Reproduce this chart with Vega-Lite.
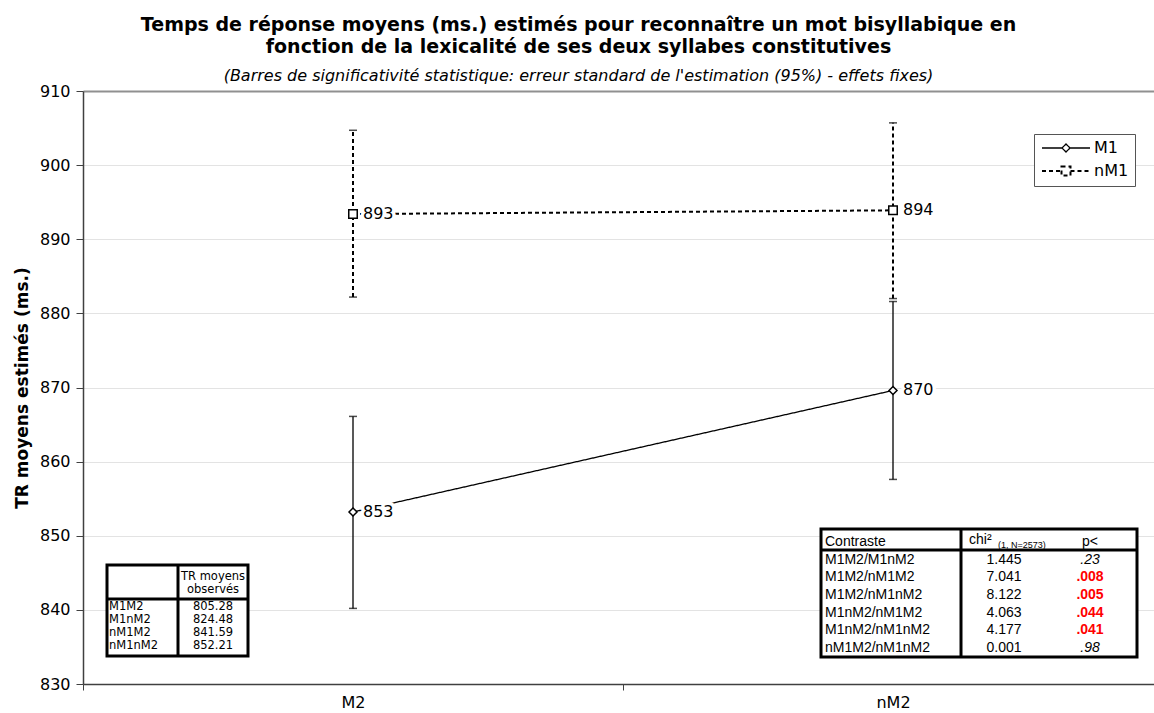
{
  "$schema": "https://vega.github.io/schema/vega-lite/v6.json",
  "width": 1071,
  "height": 593,
  "autosize": {"type": "none"},
  "padding": {"left": 83, "top": 91, "right": 0, "bottom": 29},
  "background": "white",
  "config": {"font": "DejaVu Sans", "view": {"stroke": null}},
  "title": {
    "text": ["Temps de réponse moyens (ms.) estimés pour reconnaître un mot bisyllabique en", "fonction de la lexicalité de ses deux syllabes constitutives"],
    "subtitle": "(Barres de significativité statistique: erreur standard de l'estimation (95%) - effets fixes)",
    "font": "DejaVu Sans",
    "fontSize": 19,
    "fontWeight": "bold",
    "lineHeight": 22,
    "color": "black",
    "subtitleFont": "DejaVu Sans",
    "subtitleFontSize": 16,
    "subtitleFontStyle": "italic",
    "subtitleColor": "black",
    "subtitlePadding": 11,
    "anchor": "middle",
    "frame": "group",
    "dx": -40,
    "offset": -1
  },
  "datasets": {
    "est": [
      {"cond": "M2", "serie": "M1", "tr": 853.2, "lo": 840.2, "hi": 866.1},
      {"cond": "nM2", "serie": "M1", "tr": 869.6, "lo": 857.6, "hi": 881.6},
      {"cond": "M2", "serie": "nM1", "tr": 893.4, "lo": 882.2, "hi": 904.7},
      {"cond": "nM2", "serie": "nM1", "tr": 893.9, "lo": 882.0, "hi": 905.7}
    ],
    "contr": [
      {"contraste": "Contraste", "chi": "chi²", "p": "p<", "kind": "head"},
      {"contraste": "M1M2/M1nM2", "chi": "1.445", "p": ".23", "kind": "ns"},
      {"contraste": "M1M2/nM1M2", "chi": "7.041", "p": ".008", "kind": "sig"},
      {"contraste": "M1M2/nM1nM2", "chi": "8.122", "p": ".005", "kind": "sig"},
      {"contraste": "M1nM2/nM1M2", "chi": "4.063", "p": ".044", "kind": "sig"},
      {"contraste": "M1nM2/nM1nM2", "chi": "4.177", "p": ".041", "kind": "sig"},
      {"contraste": "nM1M2/nM1nM2", "chi": "0.001", "p": ".98", "kind": "ns"}
    ],
    "obs": [
      {"cond": "M1M2", "obs": "805.28"},
      {"cond": "M1nM2", "obs": "824.48"},
      {"cond": "nM1M2", "obs": "841.59"},
      {"cond": "nM1nM2", "obs": "852.21"}
    ]
  },
  "resolve": {"scale": {"x": "independent", "y": "independent"}},
  "layer": [
    {
      "data": {"name": "est"},
      "encoding": {
        "x": {
          "field": "cond", "type": "nominal", "sort": ["M2", "nM2"],
          "scale": {"range": [0, 1080], "paddingInner": 0, "paddingOuter": 0},
          "axis": {"title": null, "labelAngle": 0, "tickBand": "extent", "labelFontSize": 16, "labelColor": "black", "labelPadding": 4, "domainColor": "#404040", "domainWidth": 1.5, "tickColor": "#404040", "tickSize": 6, "grid": false, "labelFont": "DejaVu Sans"}
        },
        "y": {
          "field": "tr", "type": "quantitative",
          "scale": {"domain": [830, 910], "nice": false, "zero": false},
          "axis": {
            "title": "TR moyens estimés (ms.)", "values": [830, 840, 850, 860, 870, 880, 890, 900, 910],
            "titleFontSize": 17, "titleFontWeight": "bold", "titleColor": "black", "titlePadding": 8, "titleFont": "DejaVu Sans",
            "labelFontSize": 16, "labelColor": "black", "labelPadding": 6, "labelFont": "DejaVu Sans",
            "tickSize": 7, "tickColor": "#404040", "domainColor": "#404040", "domainWidth": 1.5,
            "grid": true,
            "gridColor": {"condition": {"test": "datum.value === 910", "value": "#909090"}, "value": "#e3e3e3"},
            "gridWidth": {"condition": {"test": "datum.value === 910", "value": 2}, "value": 1}
          }
        }
      },
      "layer": [
        {
          "mark": {"type": "rule", "color": "black"},
          "encoding": {
            "y": {"field": "lo", "type": "quantitative"},
            "y2": {"field": "hi"},
            "strokeDash": {"field": "serie", "type": "nominal", "scale": {"domain": ["M1", "nM1"], "range": [[1, 0], [4, 3]]}},
            "strokeWidth": {"field": "serie", "type": "ordinal", "scale": {"domain": ["M1", "nM1"], "range": [1.3, 2]}, "legend": null}
          }
        },
        {
          "mark": {"type": "tick", "color": "black", "size": 8, "thickness": 1.5},
          "encoding": {"y": {"field": "lo", "type": "quantitative"}}
        },
        {
          "mark": {"type": "tick", "color": "black", "size": 8, "thickness": 1.5},
          "encoding": {"y": {"field": "hi", "type": "quantitative"}}
        },
        {
          "mark": {"type": "line", "color": "black"},
          "encoding": {
            "strokeDash": {
              "field": "serie", "type": "nominal",
              "scale": {"domain": ["M1", "nM1"], "range": [[1, 0], [4, 3]]},
              "legend": {
                "title": null, "orient": "none", "legendX": 951, "legendY": 43,
                "fillColor": "white", "strokeColor": "#555555", "padding": 6,
                "labelFontSize": 16, "labelColor": "black", "labelFont": "DejaVu Sans",
                "symbolSize": 100, "symbolStrokeWidth": 1.5, "symbolStrokeColor": "black",
                "labelOffset": 20, "symbolOffset": 18, "rowPadding": 6,
                "encode": {
                  "symbols": {
                    "update": {
                      "shape": {"signal": "datum.value === 'M1' ? 'M-4.8,0H-0.8M-0.8,0L0,-0.8L0.8,0L0,0.8ZM0.8,0H4.8' : 'M-4.8,0H-0.9M-0.9,-0.9H0.9V0.9H-0.9ZM0.9,0H4.8'"},
                      "fill": {"value": "white"},
                      "stroke": {"value": "black"}
                    }
                  }
                }
              }
            },
            "strokeWidth": {"field": "serie", "type": "ordinal", "scale": {"domain": ["M1", "nM1"], "range": [1.3, 2]}, "legend": null}
          }
        },
        {
          "mark": {"type": "text", "align": "left", "baseline": "middle", "dx": 10, "fontSize": 16, "color": "white", "stroke": "white", "strokeWidth": 7, "strokeJoin": "round"},
          "encoding": {"text": {"field": "tr", "format": ".0f"}}
        },
        {
          "mark": {"type": "text", "align": "left", "baseline": "middle", "dx": 10, "fontSize": 16, "color": "black"},
          "encoding": {"text": {"field": "tr", "format": ".0f"}}
        },
        {
          "transform": [{"filter": "datum.serie === 'M1'"}],
          "mark": {"type": "point", "shape": "diamond", "size": 64, "filled": true, "fill": "white", "stroke": "black", "strokeWidth": 1.5, "opacity": 1}
        },
        {
          "transform": [{"filter": "datum.serie === 'nM1'"}],
          "mark": {"type": "point", "shape": "square", "size": 72, "filled": true, "fill": "white", "stroke": "black", "strokeWidth": 1.5, "opacity": 1}
        }
      ]
    },
    {
      "data": {"values": [{}]},
      "layer": [
        {
          "mark": {"type": "rect", "fill": "white", "stroke": "black", "strokeWidth": 3},
          "encoding": {
            "x": {"datum": 0, "type": "quantitative", "scale": {"domain": [0, 316], "range": [738, 1054], "nice": false, "zero": false}, "axis": null},
            "x2": {"datum": 316},
            "y": {"datum": 0, "type": "quantitative", "scale": {"domain": [0, 128], "range": [438, 566], "nice": false, "zero": false}, "axis": null},
            "y2": {"datum": 128}
          }
        },
        {
          "mark": {"type": "rule", "color": "black", "strokeWidth": 3},
          "encoding": {
            "x": {"datum": 0, "type": "quantitative"},
            "x2": {"datum": 316},
            "y": {"datum": 21, "type": "quantitative"}
          }
        },
        {
          "mark": {"type": "rule", "color": "black", "strokeWidth": 3},
          "encoding": {
            "x": {"datum": 140, "type": "quantitative"},
            "y": {"datum": 0, "type": "quantitative"},
            "y2": {"datum": 128}
          }
        }
      ]
    },
    {
      "data": {"name": "contr"},
      "encoding": {
        "y": {"field": "contraste", "type": "nominal", "sort": null, "scale": {"range": [442, 566], "paddingInner": 0, "paddingOuter": 0}, "axis": null}
      },
      "layer": [
        {
          "mark": {"type": "text", "align": "left", "baseline": "middle", "font": "Liberation Sans", "fontSize": 14, "color": "black"},
          "encoding": {
            "x": {"datum": 4, "type": "quantitative", "scale": {"domain": [0, 316], "range": [738, 1054], "nice": false, "zero": false}, "axis": null},
            "text": {"field": "contraste"}
          }
        },
        {
          "transform": [{"filter": "datum.kind !== 'head'"}],
          "mark": {"type": "text", "align": "center", "baseline": "middle", "font": "Liberation Sans", "fontSize": 14, "color": "black"},
          "encoding": {"x": {"datum": 183, "type": "quantitative"}, "text": {"field": "chi"}}
        },
        {
          "transform": [{"filter": "datum.kind === 'head'"}],
          "mark": {"type": "text", "align": "left", "baseline": "middle", "font": "Liberation Sans", "fontSize": 14, "color": "black", "dy": -2},
          "encoding": {"x": {"datum": 148, "type": "quantitative"}, "text": {"field": "chi"}}
        },
        {
          "transform": [{"filter": "datum.kind === 'head'"}],
          "mark": {"type": "text", "align": "left", "baseline": "middle", "font": "Liberation Sans", "fontSize": 9, "color": "black", "dy": 3},
          "encoding": {"x": {"datum": 177, "type": "quantitative"}, "text": {"value": "(1, N=2573)"}}
        },
        {
          "transform": [{"filter": "datum.kind === 'head'"}],
          "mark": {"type": "text", "align": "center", "baseline": "middle", "font": "Liberation Sans", "fontSize": 14, "color": "black"},
          "encoding": {"x": {"datum": 269, "type": "quantitative"}, "text": {"field": "p"}}
        },
        {
          "transform": [{"filter": "datum.kind === 'ns'"}],
          "mark": {"type": "text", "align": "center", "baseline": "middle", "font": "Liberation Sans", "fontSize": 14, "fontStyle": "italic", "color": "black"},
          "encoding": {"x": {"datum": 269, "type": "quantitative"}, "text": {"field": "p"}}
        },
        {
          "transform": [{"filter": "datum.kind === 'sig'"}],
          "mark": {"type": "text", "align": "center", "baseline": "middle", "font": "Liberation Sans", "fontSize": 14, "fontWeight": "bold", "color": "#ff0000"},
          "encoding": {"x": {"datum": 269, "type": "quantitative"}, "text": {"field": "p"}}
        }
      ]
    },
    {
      "data": {"values": [{}]},
      "layer": [
        {
          "mark": {"type": "rect", "fill": "white", "stroke": "black", "strokeWidth": 3},
          "encoding": {
            "x": {"datum": 0, "type": "quantitative", "scale": {"domain": [0, 141], "range": [24, 165], "nice": false, "zero": false}, "axis": null},
            "x2": {"datum": 141},
            "y": {"datum": 0, "type": "quantitative", "scale": {"domain": [0, 91], "range": [474, 565], "nice": false, "zero": false}, "axis": null},
            "y2": {"datum": 91}
          }
        },
        {
          "mark": {"type": "rule", "color": "black", "strokeWidth": 3},
          "encoding": {
            "x": {"datum": 0, "type": "quantitative"},
            "x2": {"datum": 141},
            "y": {"datum": 34, "type": "quantitative"}
          }
        },
        {
          "mark": {"type": "rule", "color": "black", "strokeWidth": 3},
          "encoding": {
            "x": {"datum": 71, "type": "quantitative"},
            "y": {"datum": 0, "type": "quantitative"},
            "y2": {"datum": 91}
          }
        },
        {
          "mark": {"type": "text", "align": "center", "baseline": "middle", "fontSize": 11.5, "lineHeight": 13, "color": "black"},
          "encoding": {
            "x": {"datum": 106, "type": "quantitative"},
            "y": {"datum": 12, "type": "quantitative"},
            "text": {"value": ["TR moyens", "observés"]}
          }
        }
      ]
    },
    {
      "data": {"name": "obs"},
      "encoding": {
        "y": {"field": "cond", "type": "nominal", "sort": null, "scale": {"range": [509, 561], "paddingInner": 0, "paddingOuter": 0}, "axis": null}
      },
      "layer": [
        {
          "mark": {"type": "text", "align": "left", "baseline": "middle", "fontSize": 11.5, "color": "black"},
          "encoding": {
            "x": {"datum": 2, "type": "quantitative", "scale": {"domain": [0, 141], "range": [24, 165], "nice": false, "zero": false}, "axis": null},
            "text": {"field": "cond"}
          }
        },
        {
          "mark": {"type": "text", "align": "center", "baseline": "middle", "fontSize": 11.5, "color": "black"},
          "encoding": {"x": {"datum": 106, "type": "quantitative"}, "text": {"field": "obs"}}
        }
      ]
    }
  ]
}
